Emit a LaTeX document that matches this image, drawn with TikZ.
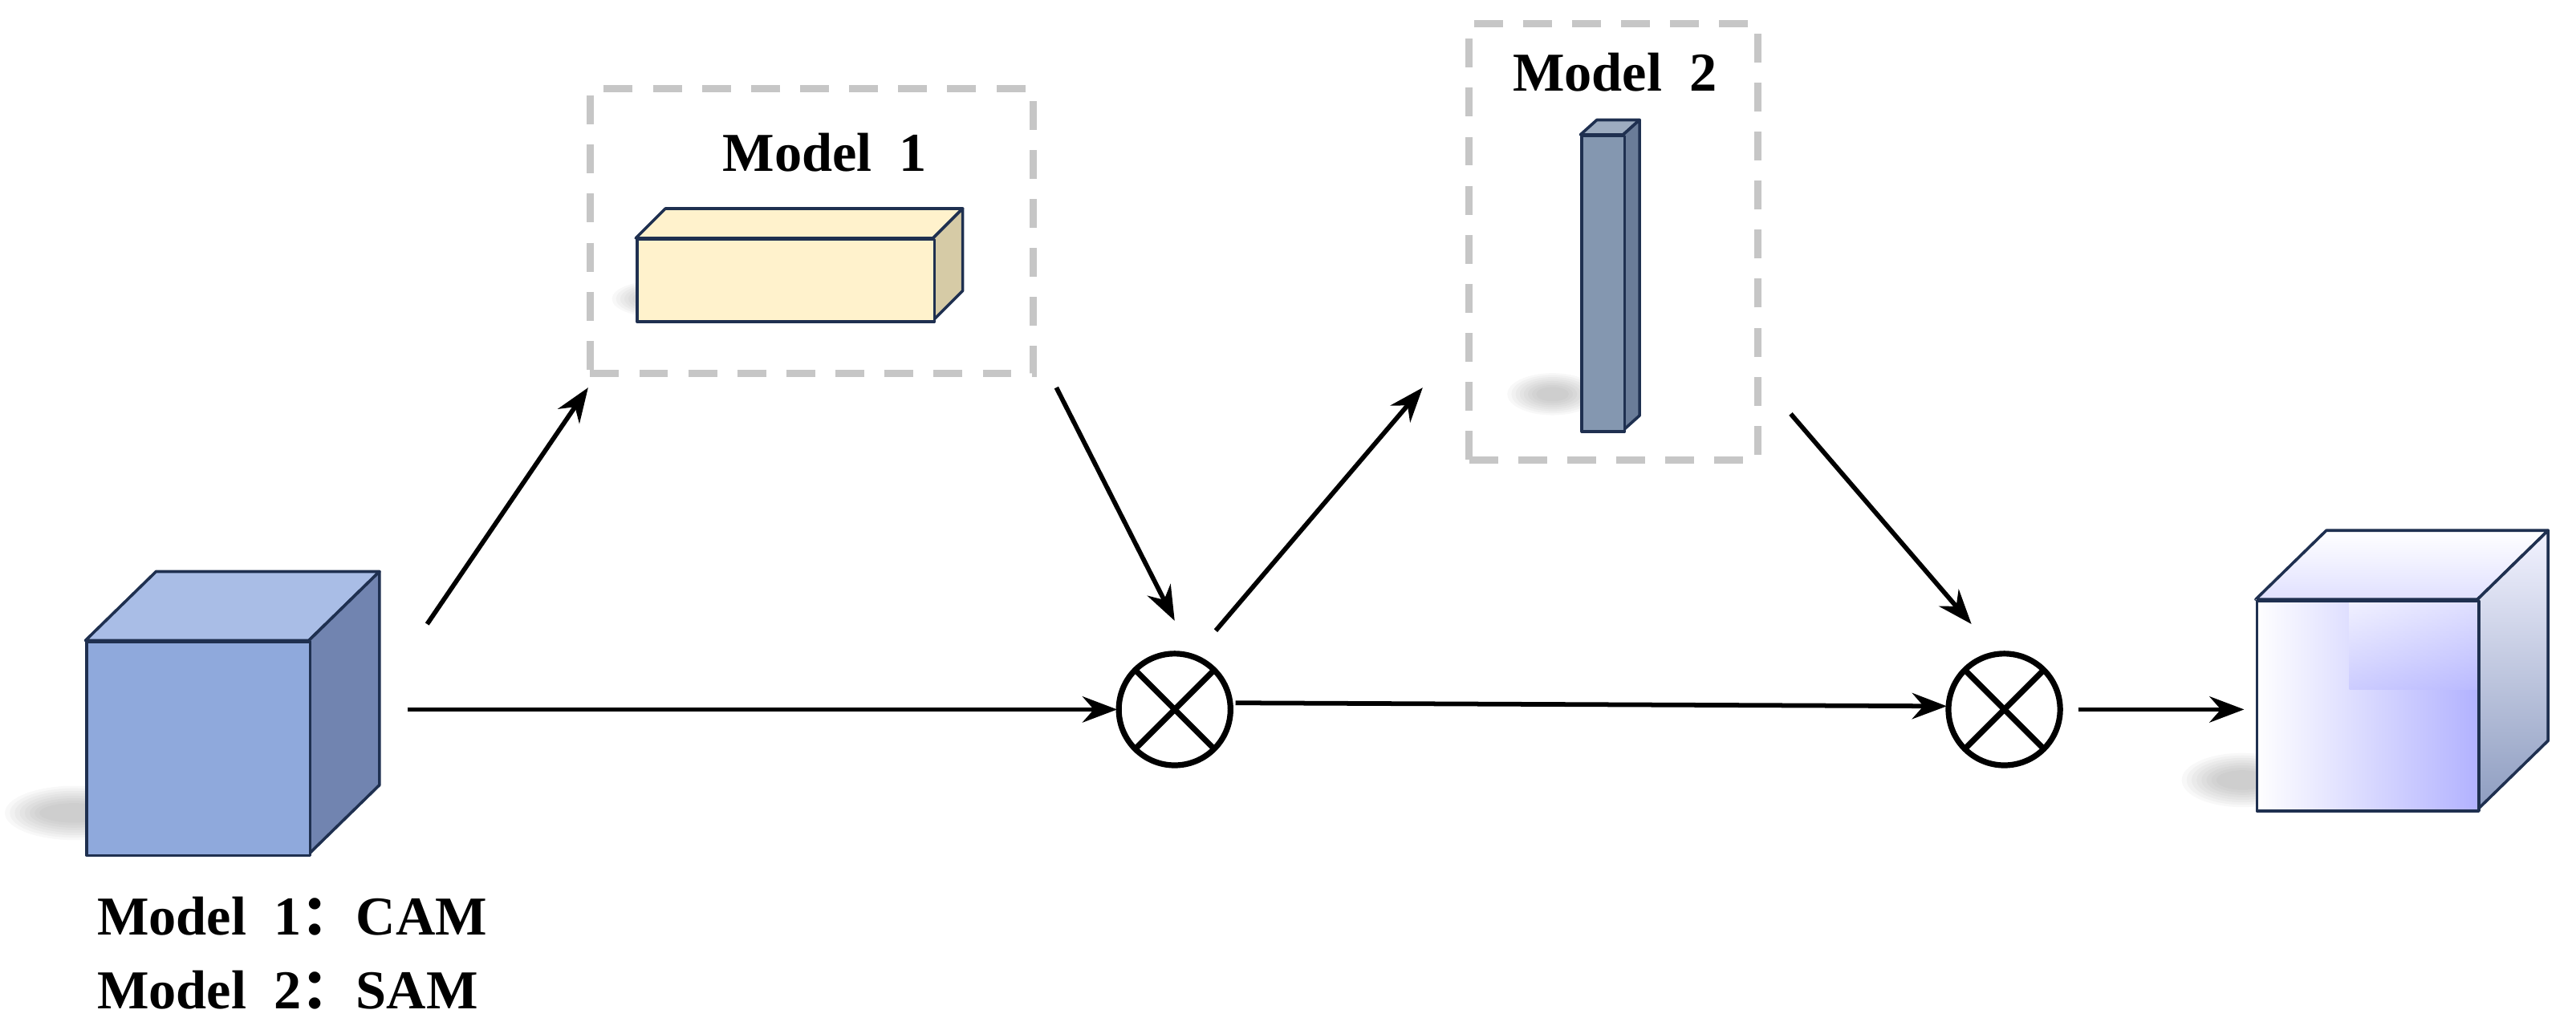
\documentclass[tikz,border=0pt]{standalone}
\usepackage{fontspec}
\setmainfont{Liberation Serif}
\newfontfamily\cjk{Noto Sans CJK SC}
\usetikzlibrary{arrows.meta}
\definecolor{cubeF}{HTML}{8FA9DC}
\definecolor{cubeT}{HTML}{A9BDE6}
\definecolor{cubeS}{HTML}{7184B0}
\definecolor{edge}{HTML}{1F3050}
\definecolor{yelF}{HTML}{FFF2CC}
\definecolor{yelS}{HTML}{D6CBA6}
\definecolor{barF}{HTML}{8497B0}
\definecolor{barS}{HTML}{6A7C98}
\begin{document}
\begin{tikzpicture}[x=0.02cm,y=-0.02cm,
  arr/.style={-{Stealth[length=12pt,width=9pt]},line width=1.6pt},
  dbox/.style={draw=gray!45,dashed,line width=2.5pt,dash pattern=on 10pt off 7pt},
  face/.style={draw=edge,line width=1pt,line join=round},
  lbl/.style={font=\fontsize{19}{22}\selectfont\bfseries},
  op/.style={circle,draw,line width=2pt,minimum size=1.36cm,inner sep=0pt,
    path picture={\draw[line width=2pt] (path picture bounding box.north west)--(path picture bounding box.south east) (path picture bounding box.north east)--(path picture bounding box.south west);}}]
\useasboundingbox (0,0) rectangle (1568,627);
% shadows
\foreach \i in {1,...,8}{
 \fill[gray,opacity=0.06] (45,495) ellipse ({45-3*\i} and {18-1.5*\i});
 \fill[gray,opacity=0.06] (400,182) ellipse ({30-2.5*\i} and {12-1*\i});
 \fill[gray,opacity=0.06] (945,240) ellipse ({30-2.5*\i} and {14-1.2*\i});
 \fill[gray,opacity=0.06] (1365,475) ellipse ({40-3*\i} and {18-1.5*\i});}
% input cube
\fill[cubeT,face] (52,390)--(95,348)--(231,348)--(188,390)--cycle;
\fill[cubeS,face] (188,390)--(231,348)--(231,478)--(188,520)--cycle;
\node[face,fill=cubeF,minimum width=2.72cm,minimum height=2.6cm,anchor=north west,inner sep=0] (in) at (52,390) {};
% model 1
\node[dbox,minimum width=5.4cm,minimum height=3.46cm,anchor=north west] (m1) at (357,52) {};
\node[lbl] (t1) at (502,93) {Model\ \ 1};
\fill[yelF,face] (387,145)--(405,127)--(586,127)--(568,145)--cycle;
\fill[yelS,face] (568,145)--(586,127)--(586,177)--(568,195)--cycle;
\node[face,fill=yelF,minimum width=3.62cm,minimum height=1cm,anchor=north west,inner sep=0] (y) at (387,145) {};
% model 2
\node[dbox,minimum width=3.52cm,minimum height=5.32cm,anchor=north west] (m2) at (892,12) {};
\node[lbl] (t2) at (983,44) {Model\ \ 2};
\fill[barF!80!white,face] (962,82)--(972,73)--(998,73)--(988,82)--cycle;
\fill[barS,face] (988,82)--(998,73)--(998,253)--(988,262)--cycle;
\node[face,fill=barF,minimum width=0.52cm,minimum height=3.6cm,anchor=north west,inner sep=0] (b) at (962,82) {};
% ops
\node[op] (o1) at (715,432) {};
\node[op] (o2) at (1220,432) {};
% output cube
\shade[face,top color=white,bottom color=blue!12] (1373,365)--(1416,323)--(1551,323)--(1508,365)--cycle;
\shade[face,top color=blue!5,bottom color=cubeS!80] (1508,365)--(1551,323)--(1551,451)--(1508,493)--cycle;
\shade[left color=white,right color=blue!30] (1373,365) rectangle (1508,493);
\shade[top color=white,bottom color=blue!25,opacity=0.6] (1430,365) rectangle (1508,420);
\node[face,minimum width=2.7cm,minimum height=2.56cm,anchor=north west,inner sep=0] (out) at (1373,365) {};
% arrows
\coordinate (a1) at (248,432); \coordinate (a2) at (680,432);
\draw[arr] (a1)--(a2);
\coordinate (b1) at (260,380); \coordinate (b2) at (358,236);
\draw[arr] (b1)--(b2);
\coordinate (c1) at (643,236); \coordinate (c2) at (715,378);
\draw[arr] (c1)--(c2);
\coordinate (d1) at (740,384); \coordinate (d2) at (866,236);
\draw[arr] (d1)--(d2);
\coordinate (e1) at (1090,252); \coordinate (e2) at (1200,380);
\draw[arr] (e1)--(e2);
\coordinate (f1) at (752,428); \coordinate (f2) at (1185,430);
\draw[arr] (f1)--(f2);
\coordinate (g1) at (1265,432); \coordinate (g2) at (1366,432);
\draw[arr] (g1)--(g2);
% legend
\node[lbl,anchor=west] (l1) at (53,558) {Model\ \ 1{\cjk ：}CAM};
\node[lbl,anchor=west] (l2) at (53,603) {Model\ \ 2{\cjk ：}SAM};
\end{tikzpicture}
\end{document}
